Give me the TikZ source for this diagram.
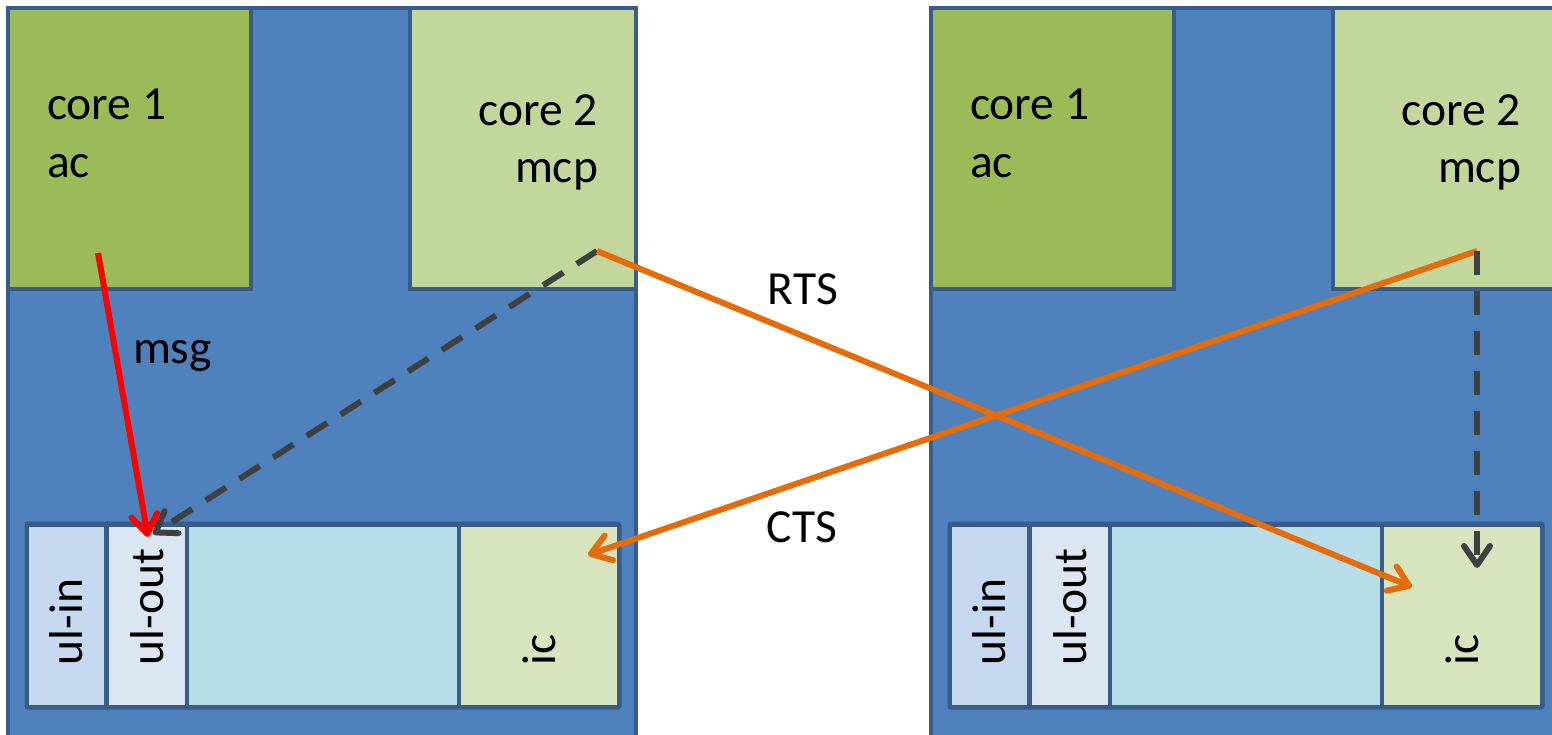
\documentclass[tikz,border=0pt]{standalone}
\usepackage{fontspec}
\setmainfont{Carlito}
\usetikzlibrary{arrows.meta}
\definecolor{chipfill}{HTML}{4F81BD}
\definecolor{chipline}{HTML}{385D8A}
\definecolor{coreA}{HTML}{9BBB59}
\definecolor{coreB}{HTML}{C3D69B}
\definecolor{cellin}{HTML}{C6D9F1}
\definecolor{cellout}{HTML}{DCE6F2}
\definecolor{cellmid}{HTML}{B7DDE8}
\definecolor{cellic}{HTML}{D7E4BD}
\definecolor{arrowgray}{HTML}{404040}
\definecolor{arroworange}{HTML}{E46C0A}
\begin{document}
\begin{tikzpicture}[x=1pt,y=-1pt,
  box/.style={rectangle, draw=chipline, line width=4.5pt, anchor=north west, inner sep=0pt, outer sep=0pt},
  frame/.style={rectangle, fill=chipline, rounded corners=3pt, anchor=north west, inner sep=0pt, outer sep=0pt},
  cell/.style={rectangle, anchor=north west, inner sep=0pt, outer sep=0pt, minimum height=178pt},
  lbl/.style={font=\fontsize{47.5}{57.5}\selectfont, inner sep=0pt, outer sep=0pt},
  vlbl/.style={lbl, rotate=90, anchor=west},
  link/.style={line width=6pt, -{Straight Barb[length=19pt,width=26pt,round]}},
  dashlink/.style={link, draw=arrowgray, dash pattern=on 24pt off 16pt},
]
\useasboundingbox (0,0) rectangle (1552,735);
\clip (0,0) rectangle (1552,735);
\fill[white] (0,0) rectangle (1552,735);

\foreach \p/\dx in {L/0,R/923} {
  \begin{scope}[xshift=\dx pt]
    \node[box, fill=chipfill, minimum width=628pt, minimum height=780pt] (\p-chip) at (8,8) {};
    \node[box, fill=coreA, minimum width=243pt, minimum height=281pt] (\p-core1) at (8,8) {};
    \node[box, fill=coreB, minimum width=226pt, minimum height=281pt] (\p-core2) at (410,8) {};
    \node[lbl, anchor=base west] (\p-c1a) at (47,120) {core 1};
    \node[lbl, anchor=base west] (\p-c1b) at (47,178) {ac};
    \node[lbl, anchor=base east] (\p-c2a) at (598,126) {core 2};
    \node[lbl, anchor=base east] (\p-c2b) at (598,183) {mcp};
    \node[frame, minimum width=597pt, minimum height=188pt] (\p-buf) at (24.5,521.5) {};
    \node[cell, fill=cellin, minimum width=75pt] (\p-ulin) at (29,527) {};
    \node[cell, fill=cellout, minimum width=76pt] (\p-ulout) at (109,527) {};
    \node[cell, fill=cellmid, minimum width=268pt] (\p-mid) at (189,527) {};
    \node[cell, fill=cellic, minimum width=156pt] (\p-ic) at (461,527) {};
    \node[vlbl] (\p-tin) at (66.5,665) {ul-in};
    \node[vlbl] (\p-tout) at (147,665) {ul-out};
    \node[vlbl] (\p-tic) at (539,665) {ic};
  \end{scope}
}

\coordinate (L-src1) at (98,253);
\coordinate (L-src2) at (597,251);
\coordinate (R-src2) at (1477,251);
\coordinate (L-dst-ulout) at (148,537);
\coordinate (L-dst-ulout2) at (153,534);
\coordinate (L-dst-ic) at (588,555);
\coordinate (R-dst-ic) at (1412,587);
\coordinate (R-dst-ictop) at (1477,568);

\node[lbl, anchor=base west] (msg) at (133,363) {msg};
\node[lbl, anchor=base] (rts) at (803,305) {RTS};
\node[lbl, anchor=base] (cts) at (802,542) {CTS};

\draw[dashlink] (L-src2) -- (L-dst-ulout2);
\draw[link, draw=red] (L-src1) -- (L-dst-ulout);
\draw[link, draw=arroworange] (L-src2) -- (R-dst-ic);
\draw[link, draw=arroworange] (R-src2) -- (L-dst-ic);
\draw[dashlink] (R-src2) -- (R-dst-ictop);
\end{tikzpicture}
\end{document}
